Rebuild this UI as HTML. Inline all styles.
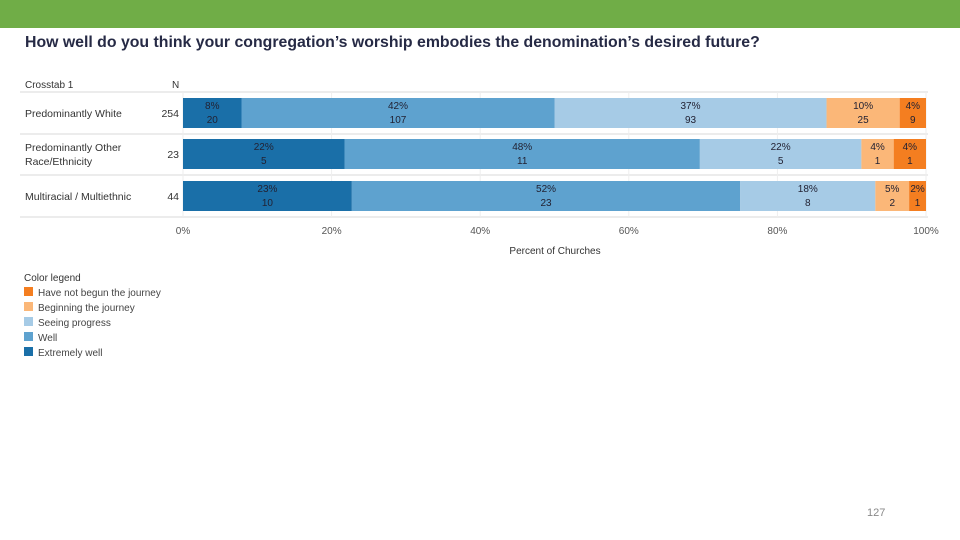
<!DOCTYPE html>
<html><head><meta charset="utf-8"><style>
body{margin:0;width:960px;height:540px;background:#fff;position:relative;overflow:hidden;font-family:"Liberation Sans",sans-serif}
.top{position:absolute;left:0;top:0;width:960px;height:28px;background:#70ad47}
.title{position:absolute;left:25px;top:34px;font-size:15.85px;font-weight:bold;color:#262a45;white-space:nowrap}
svg{position:absolute;left:0;top:0}
svg text{font-family:"Liberation Sans",sans-serif}
.pg{position:absolute;left:867px;top:507px;font-size:11px;color:#888}
</style></head><body>
<div class="top"></div>
<div class="title">How well do you think your congregation’s worship embodies the denomination’s desired future?</div>
<svg id="chart" width="960" height="540"></svg>
<div class="pg">127</div>
<script>
const categories=["Predominantly White","Predominantly Other|Race/Ethnicity","Multiracial / Multiethnic"];
const totals=[254,23,44];
const seriesNames=["Extremely well","Well","Seeing progress","Beginning the journey","Have not begun the journey"];
const extremelyWell=[20,5,10];
const well=[107,11,23];
const seeingProgress=[93,5,8];
const beginning=[25,1,2];
const notBegun=[9,1,1];
const tickLabels=["0%","20%","40%","60%","80%","100%"];
const tickValues=[0,20,40,60,80,100];
const colors=["#1a6fa8","#5ea2cf","#a6cbe6","#fbb778","#f47e20"];
const series=[extremelyWell,well,seeingProgress,beginning,notBegun];
const svg=document.getElementById('chart');
const NS='http://www.w3.org/2000/svg';
const x0=183,x1=926;
const xs=v=>x0+(x1-x0)*v/100;
const rowTop=[98,139,181],barH=30;
function mk(tag,attrs,txt){const e=document.createElementNS(NS,tag);for(const k in attrs)e.setAttribute(k,attrs[k]);if(txt!==undefined)e.textContent=txt;svg.appendChild(e);return e;}
let t=mk('text',{x:25,y:88,'font-size':10,fill:'#333'},'Crosstab 1');


t=mk('text',{x:172,y:88,'font-size':10,fill:'#333'},'N');


[92,134,175,217].forEach(y=>{const l=mk('line',{x1:20,x2:928,y1:y,y2:y,stroke:'#d8d8d8','stroke-width':1});

});
tickValues.forEach((v,i)=>{const g=mk('line',{x1:xs(v),x2:xs(v),y1:92,y2:217,stroke:'#eee','stroke-width':1});


const tl=mk('text',{x:xs(v),y:234,'font-size':10,fill:'#555','text-anchor':'middle'},tickLabels[i]);

});
t=mk('text',{x:555,y:254,'font-size':10,fill:'#333','text-anchor':'middle'},'Percent of Churches');


categories.forEach((c,r)=>{
  const parts=c.split('|');const cy=rowTop[r]+barH/2;
  parts.forEach((p,j)=>{const e=mk('text',{x:25,y:cy+4+(j-(parts.length-1)/2)*14,'font-size':10.5,fill:'#333'},p);
  
  });
  const n=mk('text',{x:179,y:cy+4,'font-size':10.5,fill:'#333','text-anchor':'end'},totals[r]);
  
  
  let cum=0;
  series.forEach((s,k)=>{
    const pct=s[r]/totals[r]*100;
    const xa=xs(cum),xb=xs(cum+pct);
    const rect=mk('rect',{x:xa,y:rowTop[r],width:xb-xa,height:barH,fill:colors[k]});
    
    
    const mid=(xa+xb)/2;
    const a=mk('text',{x:mid,y:rowTop[r]+11,'font-size':10,fill:'#223','text-anchor':'middle'},Math.round(pct)+'%');
    
    
    const b=mk('text',{x:mid,y:rowTop[r]+25,'font-size':10,fill:'#223','text-anchor':'middle'},s[r]);
    
    
    cum+=pct;
  });
});
t=mk('text',{x:24,y:281,'font-size':10,fill:'#333'},'Color legend');


for(let k=4;k>=0;k--){const i=4-k;const y=287+i*15;
  const sw=mk('rect',{x:24,y:y,width:9,height:9,fill:colors[k]});
  
  
  const lt=mk('text',{x:38,y:y+9,'font-size':10,fill:'#444'},seriesNames[k]);
  
  
}
</script>
</body></html>
